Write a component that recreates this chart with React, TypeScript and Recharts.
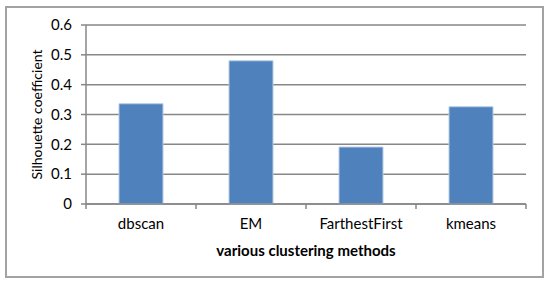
import { BarChart, Bar, XAxis, YAxis, CartesianGrid } from 'recharts'

const categories = ['dbscan', 'EM', 'FarthestFirst', 'kmeans']
const silhouette = [0.336, 0.48, 0.191, 0.326]
const yTicks = [0, 0.1, 0.2, 0.3, 0.4, 0.5, 0.6]

const data = categories.map((name, i) => ({ name, value: silhouette[i] }))

const W = 550
const H = 286
const MARGIN = { top: 25, right: 24, bottom: 22, left: 0 }
const Y_W = 86
const PLOT_W = W - MARGIN.left - MARGIN.right - Y_W
const BAND = PLOT_W / categories.length

const FONT = 'Lato, "Open Sans", sans-serif'
const AXIS = '#878787'

// category label plus boundary tick marks (Excel puts them between categories)
function XTick(props: any) {
  const { x, y, payload, index } = props
  const y0 = y - 16
  return (
    <g>
      <line x1={x - BAND / 2} x2={x - BAND / 2} y1={y0} y2={y0 + 5} stroke={AXIS} strokeWidth={1.5} />
      {index === categories.length - 1 && (
        <line x1={x + BAND / 2} x2={x + BAND / 2} y1={y0} y2={y0 + 5} stroke={AXIS} strokeWidth={1.5} />
      )}
      <text x={x} y={y0 + 25} textAnchor="middle" fontSize={15} fill="#000" fontFamily={FONT}>
        {payload.value}
      </text>
    </g>
  )
}

export default function App() {
  return (
    <div style={{ position: 'absolute', left: 0, top: 0, width: W, height: H, background: '#fff' }}>
      <div
        style={{
          position: 'absolute',
          left: 5,
          top: 6,
          width: 539,
          height: 272,
          border: '2px solid #a3a3a3',
          boxSizing: 'border-box',
        }}
      />
      <div style={{ position: 'absolute', left: 0, top: 0 }}>
        <BarChart width={W} height={H} data={data} margin={MARGIN} barCategoryGap="30%">
          <CartesianGrid vertical={false} stroke={AXIS} strokeWidth={1.5} />
          <XAxis
            dataKey="name"
            height={60}
            axisLine={{ stroke: AXIS, strokeWidth: 1.5 }}
            tickLine={false}
            tick={<XTick />}
            tickMargin={10}
            interval={0}
            label={{
              value: 'various clustering methods',
              position: 'insideBottom',
              offset: 8,
              fontSize: 15,
              fontWeight: 'bold',
              fill: '#000',
              fontFamily: FONT,
            }}
          />
          <YAxis
            width={Y_W}
            domain={[0, 0.6]}
            ticks={yTicks}
            tickFormatter={(v: number) => String(v)}
            axisLine={{ stroke: AXIS, strokeWidth: 1.5 }}
            tickLine={{ stroke: AXIS, strokeWidth: 1.5 }}
            tickSize={5}
            tickMargin={9}
            tick={{ fontSize: 15, fill: '#000', fontFamily: FONT }}
            label={{
              value: 'Silhouette coefficient',
              angle: -90,
              position: 'center',
              dx: -6,
              fontSize: 14,
              fill: '#000',
              fontFamily: FONT,
            }}
          />
          <Bar dataKey="value" fill="#4F81BD" stroke="#b8cce4" strokeWidth={1} isAnimationActive={false} />
        </BarChart>
      </div>
    </div>
  )
}
